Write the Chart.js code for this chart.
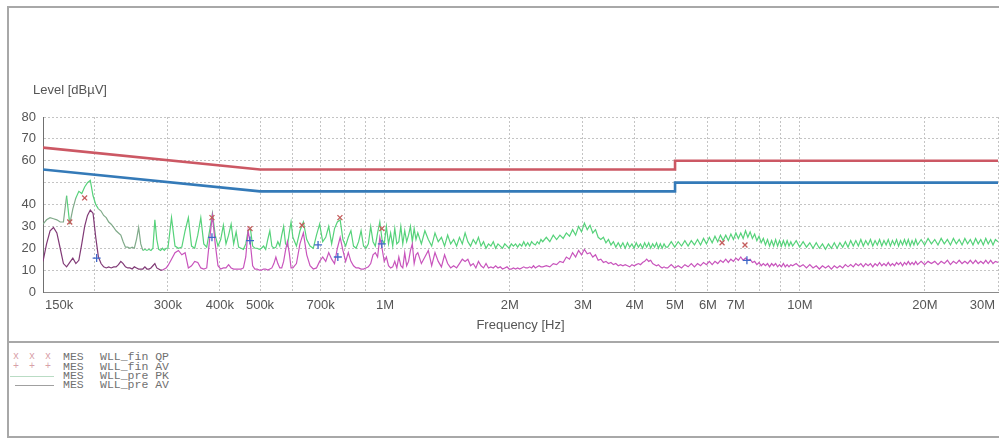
<!DOCTYPE html>
<html>
<head>
<meta charset="utf-8">
<script src="https://cdn.jsdelivr.net/npm/chart.js@4.4.1/dist/chart.umd.min.js"></script>
<style>
  html, body { margin: 0; padding: 0; background: #fff; }
  #page { position: relative; width: 999px; height: 438px; overflow: hidden; }
  #chart { position: absolute; left: 0; top: 0; }
  .rule { position: absolute; background: #a8a8a8; }
  .leg { position: absolute; font: 11.5px "Liberation Mono", "Courier New", monospace; color: #707070; white-space: pre; line-height: 10px; }
  .legMark { color: #d8a0a8; font-size: 10px; letter-spacing: 2px; }
  .legLine { position: absolute; height: 1px; }
</style>
</head>
<body>
<div id="page">
  <canvas id="chart" width="999" height="342"></canvas>
  <div class="rule" style="left:7px; top:6px; width:992px; height:2px;"></div>
  <div class="rule" style="left:7px; top:6px; width:2px; height:432px;"></div>
  <div class="rule" style="left:7px; top:341px; width:992px; height:2px;"></div>
  <div class="rule" style="left:7px; top:436px; width:992px; height:2px;"></div>

  <div class="leg legMark" style="left:13px; top:352px;">x x x</div>
  <div class="leg" style="left:63px; top:352px;">MES</div>
  <div class="leg" style="left:100px; top:352px;">WLL_fin QP</div>
  <div class="leg legMark" style="left:13px; top:362px;">+ + +</div>
  <div class="leg" style="left:63px; top:362px;">MES</div>
  <div class="leg" style="left:100px; top:362px;">WLL_fin AV</div>
  <div class="legLine" style="left:10px; top:376px; width:44px; background:#b9dcc4;"></div>
  <div class="leg" style="left:63px; top:371px;">MES</div>
  <div class="leg" style="left:100px; top:371px;">WLL_pre PK</div>
  <div class="legLine" style="left:15px; top:385px; width:39px; background:#a0a0a0;"></div>
  <div class="leg" style="left:63px; top:380px;">MES</div>
  <div class="leg" style="left:100px; top:380px;">WLL_pre AV</div>
</div>
<script>
// --- DATA (frequencies in kHz, levels in dBµV) ---
const freqKHz = [
    150, 153, 156, 159, 162, 165, 168, 171, 174, 177, 180, 183, 186, 189, 192, 195, 198, 201, 204, 207, 210, 213, 216, 219, 222, 225, 228, 231, 234, 237, 240, 243, 246, 249, 252, 255, 258, 261, 264, 267, 270, 273, 276, 279, 282, 285, 288, 291, 294, 297,
    300, 306, 312, 318, 324, 330, 336, 342, 348, 354, 360, 366, 372, 378, 384, 390, 396, 402, 408, 414, 420, 426, 432, 438, 444, 450, 456, 462, 468, 474, 480, 486, 492, 498, 504, 510, 516, 522, 528, 534, 540, 546, 552, 558, 564, 570, 576, 582, 588, 594,
    600, 612, 624, 636, 648, 660, 672, 684, 696, 708, 720, 732, 744, 756, 768, 780, 792, 804, 816, 828, 840, 852, 864, 876, 888, 900, 912, 924, 936, 948, 960, 972, 984, 996, 1008, 1020, 1032, 1044, 1056, 1068, 1080, 1092, 1104, 1116, 1128, 1140, 1152, 1164, 1176, 1188,
    1200, 1224, 1248, 1272, 1296, 1320, 1344, 1368, 1392, 1416, 1440, 1464, 1488, 1512, 1536, 1560, 1584, 1608, 1632, 1656, 1680, 1704, 1728, 1752, 1776, 1800, 1824, 1848, 1872, 1896, 1920, 1944, 1968, 1992, 2016, 2040, 2064, 2088, 2112, 2136, 2160, 2184, 2208, 2232, 2256, 2280, 2304, 2328, 2352, 2376,
    2400, 2448, 2496, 2544, 2592, 2640, 2688, 2736, 2784, 2832, 2880, 2928, 2976, 3024, 3072, 3120, 3168, 3216, 3264, 3312, 3360, 3408, 3456, 3504, 3552, 3600, 3648, 3696, 3744, 3792, 3840, 3888, 3936, 3984, 4032, 4080, 4128, 4176, 4224, 4272, 4320, 4368, 4416, 4464, 4512, 4560, 4608, 4656, 4704, 4752,
    4800, 4896, 4992, 5088, 5184, 5280, 5376, 5472, 5568, 5664, 5760, 5856, 5952, 6048, 6144, 6240, 6336, 6432, 6528, 6624, 6720, 6816, 6912, 7008, 7104, 7200, 7296, 7392, 7488, 7584, 7680, 7776, 7872, 7968, 8064, 8160, 8256, 8352, 8448, 8544, 8640, 8736, 8832, 8928, 9024, 9120, 9216, 9312, 9408, 9504,
    9600, 9792, 9984, 10176, 10368, 10560, 10752, 10944, 11136, 11328, 11520, 11712, 11904, 12096, 12288, 12480, 12672, 12864, 13056, 13248, 13440, 13632, 13824, 14016, 14208, 14400, 14592, 14784, 14976, 15168, 15360, 15552, 15744, 15936, 16128, 16320, 16512, 16704, 16896, 17088, 17280, 17472, 17664, 17856, 18048, 18240, 18432, 18624, 18816, 19008,
    19200, 19584, 19968, 20352, 20736, 21120, 21504, 21888, 22272, 22656, 23040, 23424, 23808, 24192, 24576, 24960, 25344, 25728, 26112, 26496, 26880, 27264, 27648, 28032, 28416, 28800, 29184, 29568, 30000
];

// pre-scan peak (green)
const pkPreLevel = [
    31, 33, 34, 33.5, 33, 32, 32, 44, 31, 38, 43, 46, 45, 48, 50, 51, 44, 40, 38, 37, 35, 34, 32, 31, 29.5, 28, 27, 26, 23, 20.5, 20.5, 20, 20.5, 20, 24, 29.5, 22, 19, 19.5, 19, 19.5, 19, 20, 33, 24, 19.5, 19, 20, 19, 20,
    20, 34, 21, 20, 20.5, 28, 34, 21, 20, 26, 34, 22, 20.5, 28, 36, 26, 21, 24, 30.5, 22, 26, 31, 22, 27.5, 20.5, 20, 19.5, 22, 28, 29, 21, 20, 20, 19.5, 20, 21, 19.5, 24, 28, 21, 20, 20.5, 23, 21, 26, 30, 22, 21, 27, 32,
    25, 21, 28, 32, 24, 21, 20, 26, 31, 23, 25, 30, 22, 29, 32, 33, 24, 21, 25, 28, 21, 20, 23, 28, 21, 20, 22, 30, 23, 21, 27, 32, 24, 22, 30, 22, 27, 21, 29, 22, 23, 30, 22, 28, 23, 26, 30, 23, 29, 24,
    27, 22, 28, 24, 21, 27, 23, 25, 21, 26, 22, 24, 21, 25, 22, 27, 23, 21, 24, 22, 25, 21, 23, 20, 22, 21, 23, 20, 22, 21, 20, 22, 21, 20, 22, 21, 22, 20.5, 22, 21, 23, 21, 22.5, 21, 23, 22, 21.5, 23, 22, 24,
    23, 25, 23, 26, 24, 26, 24.5, 27, 25.5, 28.5, 26, 30, 27.5, 31.5, 28.5, 30.5, 27, 28.5, 25, 24, 25, 22.5, 24, 21.5, 23, 20.5, 22.5, 20.5, 22.5, 20, 22.5, 20.5, 22, 20, 22.5, 20.5, 22, 20, 22.5, 20.5, 22.5, 20, 22, 20.5, 22.5, 20, 22, 20, 22, 20.5,
    20.5, 23, 20.5, 23, 21, 23.5, 21, 23.5, 21.5, 24, 21.5, 24.5, 22, 25, 22.5, 25.5, 23, 26, 23.5, 26, 23.5, 26.5, 24, 27, 24.5, 27, 24.5, 28, 25, 27.5, 24.5, 26.5, 23.5, 25.5, 22.5, 24.5, 21.5, 24, 21, 23.5, 21, 24, 21, 23.5, 21, 23.5, 21, 23.5, 21, 23,
    21, 23.5, 20.5, 23, 20.5, 22.5, 20, 22.5, 20, 22, 19.5, 22, 20, 22.5, 20, 22.5, 20.5, 23, 20.5, 23.5, 21, 23.5, 21, 24, 21, 23.5, 21.5, 24, 21, 23.5, 21.5, 24, 21, 23.5, 21.5, 24, 21, 23.5, 21.5, 24, 21, 23.5, 21.5, 24, 21.5, 24, 21, 23.5, 21.5, 24,
    21.5, 24, 21.5, 24.5, 22, 24, 21.5, 24.5, 22, 24, 21.5, 24.5, 22, 24, 21.5, 24.5, 22, 24, 21.5, 24.5, 22, 24, 21.5, 24.5, 22, 24, 21.5, 24, 23
];

// pre-scan average (magenta)
const avPreLevel = [
    14, 22, 28, 29.5, 27, 20, 13, 11.5, 13.5, 15.5, 13, 14.5, 22, 30, 35, 37.5, 36, 25, 16, 13, 11.5, 11, 11.5, 11, 11.5, 11.5, 12.5, 14, 13, 11.5, 11, 11, 10.5, 11.5, 11, 10.5, 10.5, 10.5, 11.5, 10.5, 10.5, 11, 12, 13, 11, 10.5, 10, 10, 10.5, 11,
    12, 15, 18, 19, 17, 18, 11, 12, 14, 13.5, 11, 10.5, 11, 24, 35, 22, 12, 10.5, 11, 11, 12.5, 11, 10.5, 10.5, 10.5, 10.5, 11, 16, 28, 22, 12, 10.5, 10.5, 10, 10, 10.5, 10.5, 10, 10.5, 11, 13, 16, 13, 11, 11, 14, 19, 23, 18, 11,
    11, 13, 22, 27, 17, 12, 10.5, 11, 14, 16, 14, 18, 15, 13, 20, 25, 19, 14, 18, 14, 12, 11, 11, 10.5, 10.5, 11, 11.5, 13, 17, 18, 16, 25, 20, 14, 16, 12, 11, 11.5, 14, 11, 16, 12, 11, 18, 12, 14, 19, 22, 13, 17,
    18, 13, 16, 19, 12, 18, 14, 11.5, 17, 13, 11, 12, 11, 13, 15, 14, 15, 12, 13, 11, 14, 12, 11, 13, 11, 11.5, 11, 12, 11, 11.5, 10.5, 11, 11.5, 10.5, 10.5, 11, 10.5, 11, 10.5, 11, 11.5, 11, 11, 11.5, 11, 12, 11, 11.5, 12, 11.5,
    11.5, 12, 11.5, 13, 12.5, 14, 13.5, 16, 15, 18, 16, 19, 17, 19.5, 17.5, 18, 16, 17, 14.5, 15, 13.5, 14, 13, 13.5, 12.5, 13, 12, 12.5, 12, 12.5, 12, 11.5, 12.5, 12, 12.5, 13, 12.5, 13.5, 14, 15, 14, 14.5, 13, 12.5, 12, 12.5, 11.5, 11, 11.5, 11,
    11, 12.5, 11, 12, 11, 12.5, 11.5, 13, 11.5, 13, 12, 13.5, 12.5, 14, 12.5, 14, 13, 14.5, 13.5, 15, 13.5, 15, 14, 15.5, 14.5, 16, 14.5, 15.5, 14.5, 15, 13.5, 14, 12.5, 13.5, 12, 13, 12, 13, 11.5, 13, 12, 13, 11.5, 12.5, 11.5, 13, 11.5, 12.5, 11.5, 12.5,
    12, 13, 11.5, 12.5, 11, 12.5, 11, 12, 10.5, 12, 11, 12, 10.5, 12, 11, 12, 11, 12.5, 11.5, 12.5, 11.5, 13, 12, 13, 11.5, 13, 12, 13, 11.5, 13, 12, 13.5, 12, 13, 12, 13.5, 12, 13, 12, 13.5, 12.5, 13.5, 12, 13.5, 12.5, 14, 12.5, 13.5, 12.5, 14,
    12.5, 14, 12.5, 14, 13, 14, 12.5, 14, 13, 14.5, 12.5, 14, 13, 14.5, 13, 14, 13, 14.5, 13, 14.5, 13, 14, 13, 14.5, 13, 14.5, 13, 14, 13.5
];

// limit lines
const qpLimitFreq = [150, 500, 5000, 5000, 30000];
const qpLimitLevel = [66, 56, 56, 60, 60];
const avLimitFreq = [150, 500, 5000, 5000, 30000];
const avLimitLevel = [56, 46, 46, 50, 50];

// final measurement markers
const qpFinFreq = [174, 189, 383, 473, 631, 779, 983, 6490, 7370];
const qpFinLevel = [32, 43, 34, 29, 30.5, 34, 29, 22.5, 21.5];
const avFinFreq = [202, 383, 473, 690, 770, 983, 7450];
const avFinLevel = [15.5, 25, 23.5, 21.5, 16, 22, 14.5];

// axes
const gridFreqs = [200, 300, 400, 500, 600, 700, 800, 900, 1000, 2000, 3000, 4000, 5000, 6000, 7000, 8000, 9000, 10000, 20000, 30000];
const labelFreqs = [150, 300, 400, 500, 700, 1000, 2000, 3000, 4000, 5000, 6000, 7000, 10000, 20000, 30000];
const labelTexts = ['150k', '300k', '400k', '500k', '700k', '1M', '2M', '3M', '4M', '5M', '6M', '7M', '10M', '20M', '30M'];

const COLORS = {
    pk: 'rgb(86, 210, 122)',
    pkLow: 'rgb(128, 170, 138)',
    av: 'rgb(200, 84, 188)',
    avLow: 'rgb(128, 58, 118)',
    qpLimit: 'rgb(204, 88, 100)',
    avLimit: 'rgb(52, 122, 184)',
    qpMark: 'rgb(196, 92, 92)',
    avMark: 'rgb(64, 104, 200)',
    grid: '#c4c4c4',
    text: '#555555',
};
const FONT = '"Liberation Sans", Arial, sans-serif';

const toPoints = (xs, ys) => xs.map((x, i) => ({ x: x, y: ys[i] }));

// x tick labels and axis titles drawn at the scale positions
const axisText = {
    id: 'axisText',
    afterDraw(chart) {
        const { ctx, chartArea, scales } = chart;
        ctx.save();
        ctx.font = '13px ' + FONT;
        ctx.fillStyle = COLORS.text;
        ctx.textBaseline = 'middle';
        const last = labelFreqs.length - 1;
        labelFreqs.forEach((f, i) => {
            let x = scales.x.getPixelForValue(f);
            if (i === 0) { ctx.textAlign = 'left'; x += 2; }
            else if (i === last) { ctx.textAlign = 'right'; x -= 3; }
            else ctx.textAlign = 'center';
            ctx.fillText(labelTexts[i], x, chartArea.bottom + 13);
        });
        ctx.textAlign = 'center';
        ctx.fillText('Frequency [Hz]', (chartArea.left + chartArea.right) / 2, chartArea.bottom + 33);
        ctx.textAlign = 'left';
        ctx.fillText('Level [dBµV]', 33, 90);
        ctx.restore();
    }
};

function renderEmiChart() {
    const ctx = document.getElementById('chart').getContext('2d');
    new Chart(ctx, {
        type: 'line',
        data: {
            datasets: [
                {
                    label: 'MES WLL_fin QP',
                    data: toPoints(qpFinFreq, qpFinLevel),
                    showLine: false,
                    pointStyle: 'crossRot',
                    pointRadius: 3.5,
                    pointBorderWidth: 1.3,
                    borderColor: COLORS.qpMark,
                    backgroundColor: COLORS.qpMark
                },
                {
                    label: 'MES WLL_fin AV',
                    data: toPoints(avFinFreq, avFinLevel),
                    showLine: false,
                    pointStyle: 'cross',
                    pointRadius: 4,
                    pointBorderWidth: 1.3,
                    borderColor: COLORS.avMark,
                    backgroundColor: COLORS.avMark
                },
                {
                    label: 'QP limit',
                    data: toPoints(qpLimitFreq, qpLimitLevel),
                    borderColor: COLORS.qpLimit,
                    borderWidth: 2.6,
                    pointRadius: 0
                },
                {
                    label: 'AV limit',
                    data: toPoints(avLimitFreq, avLimitLevel),
                    borderColor: COLORS.avLimit,
                    borderWidth: 2.6,
                    pointRadius: 0
                },
                {
                    label: 'MES WLL_pre AV',
                    data: toPoints(freqKHz, avPreLevel),
                    borderColor: COLORS.av,
                    borderWidth: 1.2,
                    pointRadius: 0,
                    segment: { borderColor: (c) => (c.p0.parsed.x < 290 ? COLORS.avLow : undefined) }
                },
                {
                    label: 'MES WLL_pre PK',
                    data: toPoints(freqKHz, pkPreLevel),
                    borderColor: COLORS.pk,
                    borderWidth: 1.2,
                    pointRadius: 0,
                    segment: { borderColor: (c) => (c.p0.parsed.x < 260 && c.p0.parsed.y < 40 ? COLORS.pkLow : undefined) }
                }
            ]
        },
        options: {
            responsive: false,
            animation: false,
            layout: { autoPadding: false, padding: { left: 0, top: 117, right: 1, bottom: 0 } },
            plugins: {
                legend: { display: false },
                tooltip: { enabled: false }
            },
            scales: {
                x: {
                    type: 'logarithmic',
                    min: 150,
                    max: 30000,
                    afterBuildTicks: (scale) => { scale.ticks = gridFreqs.map(v => ({ value: v })); },
                    afterFit: (scale) => {
                        scale.height = 50;
                        scale.paddingLeft = 0;
                        scale.paddingRight = 0;
                    },
                    ticks: { display: false },
                    grid: { color: COLORS.grid, drawTicks: false },
                    border: { color: '#8a8a8a', width: 1, dash: [2, 2] }
                },
                y: {
                    min: 0,
                    max: 80,
                    afterFit: (scale) => {
                        scale.width = 43;
                        scale.paddingTop = 0;
                        scale.paddingBottom = 0;
                    },
                    ticks: {
                        stepSize: 10,
                        padding: 7,
                        color: COLORS.text,
                        font: { family: FONT, size: 13 },
                        callback: (value) => (value === 50 ? '' : value)
                    },
                    grid: { color: COLORS.grid, drawTicks: false },
                    border: { color: '#707070', width: 1, dash: [2, 2] }
                }
            }
        },
        plugins: [axisText]
    });
}

window.onload = renderEmiChart;
</script>
</body>
</html>
